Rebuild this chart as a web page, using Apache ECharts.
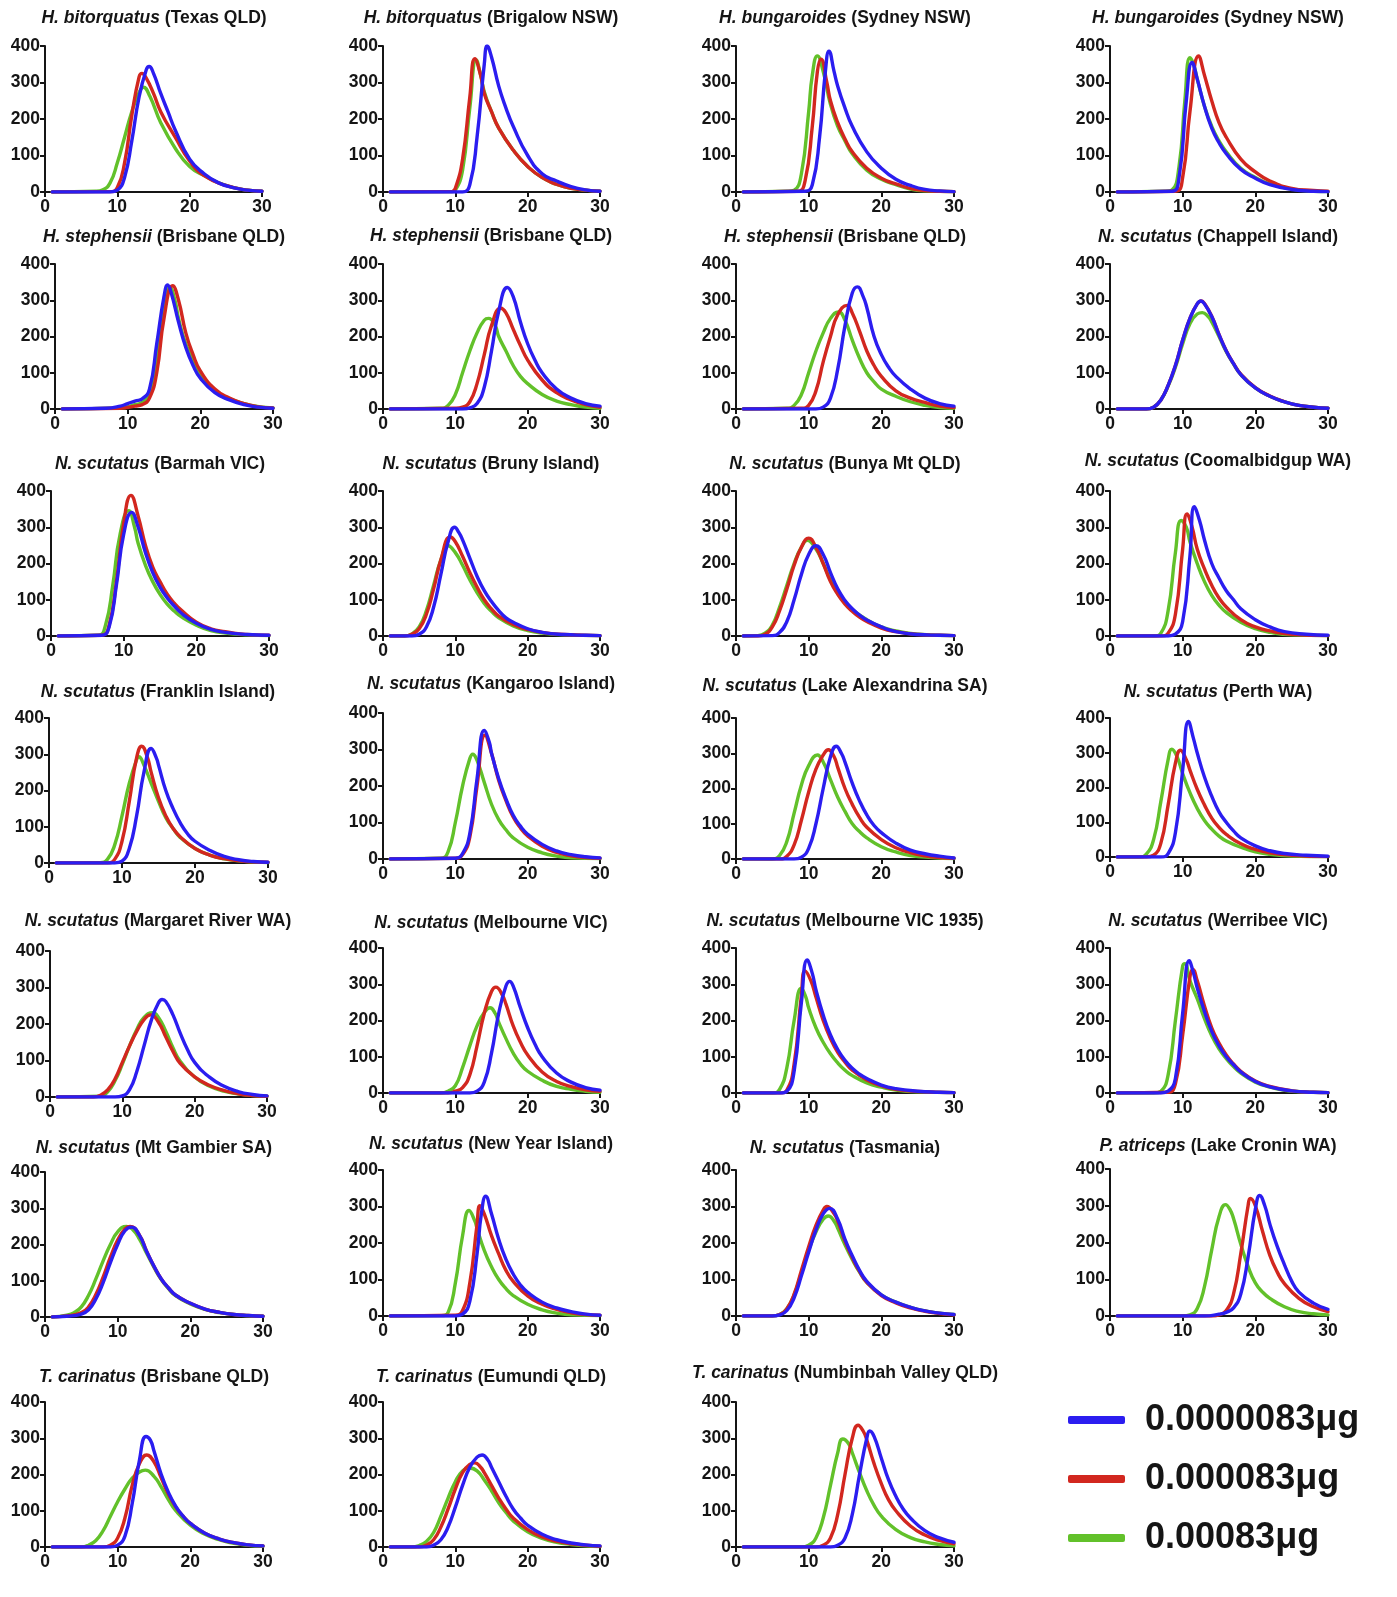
<!DOCTYPE html>
<html><head><meta charset="utf-8">
<script src="https://cdn.jsdelivr.net/npm/echarts@6/dist/echarts.min.js"></script>
<style>html,body{margin:0;padding:0;background:#fff}#c{width:1397px;height:1597px}</style>
</head><body><div id="c"></div>
<script>
// ---------- data ----------
const doseNames = ['0.0000083μg', '0.000083μg', '0.00083μg'];
const species = ['H. bitorquatus','H. bitorquatus','H. bungaroides','H. bungaroides',
 'H. stephensii','H. stephensii','H. stephensii','N. scutatus',
 'N. scutatus','N. scutatus','N. scutatus','N. scutatus',
 'N. scutatus','N. scutatus','N. scutatus','N. scutatus',
 'N. scutatus','N. scutatus','N. scutatus','N. scutatus',
 'N. scutatus','N. scutatus','N. scutatus','P. atriceps',
 'T. carinatus','T. carinatus','T. carinatus'];
const places = ['Texas QLD','Brigalow NSW','Sydney NSW','Sydney NSW',
 'Brisbane QLD','Brisbane QLD','Brisbane QLD','Chappell Island',
 'Barmah VIC','Bruny Island','Bunya Mt QLD','Coomalbidgup WA',
 'Franklin Island','Kangaroo Island','Lake Alexandrina SA','Perth WA',
 'Margaret River WA','Melbourne VIC','Melbourne VIC 1935','Werribee VIC',
 'Mt Gambier SA','New Year Island','Tasmania','Lake Cronin WA',
 'Brisbane QLD','Eumundi QLD','Numbinbah Valley QLD'];

// 0.0000083μg (blue)
const dose1 = [
[[1,0],[9,0],[10,5],[11,40],[12,140],[13,260],[14,335],[14.4,344],[15,325],[16,270],[17,220],[18,170],[20,90],[22,50],[24,25],[26,12],[28,5],[30,2]],
[[1,0],[11,0],[12,20],[13,150],[14,350],[14.4,400],[15,370],[16,290],[17,230],[18,180],[20,100],[22,50],[24,30],[26,15],[28,6],[30,2]],
[[1,0],[9.5,2],[10.5,20],[11.5,150],[12.3,330],[12.8,386],[13.5,330],[14,290],[15,230],[16,180],[18,110],[20,65],[22,35],[24,18],[26,7],[28,3],[30,1]],
[[1,0],[8.5,2],[9.5,40],[10.5,250],[11.3,355],[12,310],[13,235],[14,175],[15,135],[16,105],[18,62],[20,38],[22,20],[25,7],[28,2],[30,1]],
[[1,0],[7,2],[9,8],[10,15],[11,22],[12,28],[13,55],[14,180],[15,310],[15.5,342],[16,320],[17,240],[18,170],[19,120],[20,85],[22,45],[24,25],[26,12],[28,5],[30,2]],
[[1,0],[11,0],[12,3],[13,15],[14,60],[15,160],[16,270],[17.2,335],[18,310],[19,240],[20,180],[21,135],[22,100],[24,55],[26,30],[28,15],[30,8]],
[[1,0],[11,0],[12,5],[13,30],[14,110],[15,230],[16,320],[16.7,337],[17.5,310],[18,280],[19,200],[20,150],[21,115],[22,90],[24,55],[26,30],[28,15],[30,8]],
[[1,0],[5,0],[6,5],[7,25],[8,65],[9,120],[10,190],[11,250],[12,290],[12.5,298],[13,290],[14,255],[15,205],[16,160],[17,125],[18,95],[20,58],[22,35],[24,20],[26,10],[28,5],[30,2]],
[[1,0],[7,2],[8,25],[9,140],[10,280],[11.1,341],[12,300],[13,230],[14,175],[15,135],[16,105],[17,82],[18,62],[20,35],[22,18],[24,10],[27,4],[30,2]],
[[1,0],[4,0],[5,5],[6,25],[7,80],[8,170],[9,260],[9.9,300],[10.5,285],[11,265],[12,215],[13,165],[14,125],[15,95],[16,70],[17,50],[18,38],[20,20],[22,10],[25,4],[28,2],[30,1]],
[[1,0],[5,1],[6,10],[7,40],[8,100],[9,170],[10,225],[11,249],[12,225],[13,175],[14,130],[15,98],[16,75],[17,58],[18,44],[20,25],[22,12],[25,4],[28,2],[30,1]],
[[1,0],[8,0],[9,5],[10,40],[11,220],[11.6,357],[12.3,320],[13,265],[14,200],[15,160],[16,125],[17,100],[18,75],[20,45],[22,25],[24,12],[27,5],[30,2]],
[[1,0],[9,0],[10,5],[11,40],[12,130],[13,250],[14,316],[14.7,290],[15,270],[16,200],[17,150],[18,110],[19,80],[20,60],[22,35],[24,18],[26,9],[28,4],[30,2]],
[[1,0],[10,2],[11,15],[12,70],[13,220],[14,352],[14.7,320],[15,290],[16,220],[17,165],[18,120],[19,90],[20,68],[22,40],[24,22],[26,12],[28,6],[30,3]],
[[1,0],[8,0],[9,5],[10,30],[11,100],[12,200],[13,290],[13.8,320],[14.5,300],[15,275],[16,215],[17,165],[18,125],[19,95],[20,75],[22,45],[24,25],[26,15],[28,8],[30,3]],
[[1,0],[7,0],[8,10],[9,70],[10,250],[10.8,390],[11.5,340],[12,300],[13,230],[14,175],[15,130],[16,100],[17,75],[18,55],[20,32],[22,18],[24,10],[27,5],[30,2]],
[[1,0],[9,0],[10,3],[11,20],[12,70],[13,140],[14,210],[15,258],[15.5,267],[16,262],[17,225],[18,175],[19,130],[20,95],[22,55],[24,30],[26,15],[28,7],[30,3]],
[[1,0],[12,0],[13,5],[14,30],[15,110],[16,220],[17,295],[17.5,308],[18,295],[19,235],[20,180],[21,135],[22,100],[24,55],[26,30],[28,15],[30,8]],
[[1,0],[6,0],[7,5],[8,60],[9,250],[9.8,367],[10.5,330],[11,285],[12,215],[13,160],[14,120],[15,90],[16,68],[17,52],[18,40],[20,22],[22,12],[25,5],[28,2],[30,1]],
[[1,0],[7,0],[8,5],[9,40],[10,220],[10.9,365],[11.5,330],[12,290],[13,225],[14,170],[15,130],[16,100],[17,78],[18,58],[20,32],[22,17],[25,6],[28,2],[30,1]],
[[1,0],[3,2],[5,8],[6,20],[7,50],[8,95],[9,150],[10,200],[11,238],[11.9,248],[13,225],[14,180],[15,140],[16,105],[17,80],[18,60],[20,38],[22,22],[24,13],[26,7],[28,4],[30,2]],
[[1,0],[10,0],[11,5],[12,40],[13,170],[13.6,280],[14.2,328],[15,280],[16,210],[17,155],[18,115],[19,85],[20,65],[22,38],[24,22],[26,12],[28,5],[30,2]],
[[1,0],[5,0],[6,3],[7,15],[8,50],[9,110],[10,175],[11,235],[12,280],[12.9,295],[14,265],[15,210],[16,165],[17,125],[18,95],[20,58],[22,38],[24,24],[26,14],[28,8],[30,4]],
[[1,0],[13,0],[15,5],[16,10],[17,22],[18,60],[19,160],[20,290],[20.6,328],[21.3,300],[22,250],[23,190],[24,140],[25,95],[26,65],[28,35],[30,18]],
[[1,0],[9,0],[10,5],[11,30],[12,120],[13,240],[13.9,305],[14.5,295],[15,265],[16,200],[17,150],[18,112],[19,85],[20,65],[22,38],[24,22],[26,12],[28,6],[30,3]],
[[1,0],[6,0],[7,5],[8,20],[9,55],[10,110],[11,170],[12,220],[13,248],[13.7,254],[14.5,240],[15,220],[16,180],[17,140],[18,105],[19,80],[20,60],[22,35],[24,20],[26,11],[28,6],[30,3]],
[[1,0],[13,0],[14,5],[15,25],[16,90],[17,200],[18,300],[18.4,320],[19,305],[20,245],[21,185],[22,140],[23,105],[24,80],[26,45],[28,25],[30,13]]
];

// 0.000083μg (red)
const dose2 = [
[[1,0],[9,1],[10,12],[11,80],[12,210],[13,315],[13.4,325],[14,312],[15,270],[16,220],[18,150],[20,85],[22,45],[25,18],[28,5],[30,2]],
[[1,0],[9.5,1],[10,10],[11,90],[12,260],[12.7,365],[13.5,320],[14,270],[15,220],[16,175],[18,115],[20,70],[22,40],[25,15],[28,5],[30,2]],
[[1,0],[8.5,2],[9.5,30],[10.5,180],[11.2,330],[11.7,364],[12.5,300],[13,250],[14,190],[15,145],[16,110],[18,65],[20,38],[22,22],[25,6],[28,2],[30,1]],
[[1,0],[9,2],[10,40],[11,220],[12.2,373],[13,320],[14,250],[15,190],[16,150],[18,90],[20,55],[22,30],[25,10],[28,4],[30,2]],
[[1,0],[9,2],[11,8],[12,12],[13,30],[14,100],[15,250],[16.2,340],[17,300],[18,210],[19,150],[20,105],[22,55],[24,30],[26,15],[28,6],[30,3]],
[[1,0],[10,2],[11,5],[12,20],[13,70],[14,150],[15,230],[16.3,278],[17,265],[18,220],[19,175],[20,135],[22,80],[24,45],[26,25],[28,12],[30,5]],
[[1,0],[9,2],[10,10],[11,50],[12,130],[13,200],[14,260],[15.3,286],[16,265],[17,215],[18,160],[19,120],[20,90],[22,50],[24,30],[26,18],[28,8],[30,4]],
[[1,0],[5,0],[6,5],[7,25],[8,65],[9,120],[10,190],[11,250],[12,290],[12.6,298],[13,291],[14,256],[15,206],[16,161],[17,126],[18,96],[20,59],[22,36],[24,20],[26,10],[28,5],[30,2]],
[[1,0],[7,2],[8,30],[9,150],[10,310],[11,388],[12,330],[13,250],[14,190],[15,150],[16,115],[17,90],[18,70],[20,38],[22,20],[24,12],[26,6],[28,3],[30,2]],
[[1,0],[3,0],[4,5],[5,20],[6,60],[7,130],[8,210],[9.3,273],[10,260],[11,220],[12,175],[13,135],[14,100],[15,75],[16,55],[18,32],[20,18],[22,10],[25,4],[30,1]],
[[1,0],[3,0],[4,5],[5,25],[6,70],[7,130],[8,195],[9,245],[10,270],[11,245],[12,200],[13,150],[14,115],[15,88],[16,68],[17,52],[18,40],[20,22],[22,12],[25,4],[28,2],[30,1]],
[[1,0],[7,0],[8,8],[9,60],[10,240],[10.6,337],[11.3,300],[12,240],[13,185],[14,140],[15,105],[16,80],[18,45],[20,25],[22,14],[25,5],[30,1]],
[[1,0],[8,0],[9,10],[10,60],[11,170],[12,290],[12.7,322],[13.5,290],[14,250],[15,180],[16,130],[17,95],[18,72],[20,40],[22,22],[24,12],[27,4],[30,2]],
[[1,0],[10,2],[11,12],[12,60],[13,200],[14.1,339],[15,290],[16,215],[17,160],[18,115],[19,85],[20,63],[22,35],[24,18],[26,9],[28,4],[30,2]],
[[1,0],[6,0],[7,8],[8,40],[9,110],[10,190],[11,255],[12,295],[12.7,310],[13.5,290],[14,260],[15,200],[16,155],[17,118],[18,90],[20,55],[22,32],[24,18],[26,9],[28,4],[30,2]],
[[1,0],[5,0],[6,5],[7,40],[8,150],[9,270],[9.7,307],[10.5,280],[11,250],[12,195],[13,150],[14,112],[15,85],[16,65],[18,38],[20,22],[22,12],[25,5],[30,1]],
[[1,0],[6,0],[7,5],[8,20],[9,50],[10,95],[11,140],[12,180],[13,212],[13.9,225],[15,205],[16,165],[17,125],[18,92],[20,55],[22,32],[24,18],[26,9],[28,4],[30,2]],
[[1,0],[9,0],[10,5],[11,15],[12,50],[13,130],[14,220],[15,280],[15.6,292],[16.5,270],[17,245],[18,185],[19,140],[20,105],[22,58],[24,32],[26,18],[28,9],[30,5]],
[[1,0],[6,0],[7,8],[8,80],[9,270],[9.5,337],[10.3,310],[11,265],[12,200],[13,150],[14,112],[15,85],[16,63],[18,36],[20,20],[22,10],[25,4],[30,1]],
[[1,0],[8,2],[9,25],[10,160],[11,320],[11.4,341],[12,310],[13,240],[14,180],[15,138],[16,105],[17,80],[18,60],[20,33],[22,18],[25,6],[28,2],[30,1]],
[[1,0],[3,3],[5,12],[6,28],[7,62],[8,110],[9,165],[10,212],[11,243],[11.7,250],[13,226],[14,181],[15,140],[16,105],[17,80],[18,60],[20,38],[22,22],[24,13],[26,7],[28,4],[30,2]],
[[1,0],[10,2],[11,15],[12,90],[13,250],[13.4,302],[14,280],[15,220],[16,170],[17,125],[18,95],[20,55],[22,32],[24,18],[26,9],[28,4],[30,2]],
[[1,0],[5,0],[6,4],[7,20],[8,60],[9,125],[10,190],[11,248],[12,290],[12.5,300],[13.5,280],[14,260],[15,205],[16,160],[17,122],[18,92],[20,56],[22,36],[24,22],[26,13],[28,7],[30,3]],
[[1,0],[14,0],[15,3],[16,15],[17,60],[18,170],[19,300],[19.3,320],[20,300],[21,230],[22,165],[23,120],[24,88],[26,48],[28,25],[30,12]],
[[1,0],[8,0],[9,5],[10,25],[11,80],[12,170],[13,230],[14,254],[15,235],[16,190],[17,145],[18,110],[19,85],[20,65],[22,38],[24,22],[26,12],[28,6],[30,3]],
[[1,0],[5,0],[6,5],[7,20],[8,55],[9,105],[10,160],[11,205],[12,228],[12.7,232],[13.5,220],[14,205],[15,170],[16,135],[17,105],[18,80],[20,48],[22,28],[24,16],[26,9],[28,5],[30,2]],
[[1,0],[11,0],[12,5],[13,25],[14,90],[15,200],[16,300],[16.8,336],[17.5,320],[18,295],[19,230],[20,175],[21,130],[22,100],[24,58],[26,33],[28,18],[30,9]]
];

// 0.00083μg (green)
const dose3 = [
[[1,0],[7,2],[8,6],[9,25],[10,80],[11,150],[12,220],[13,272],[13.6,287],[14.5,262],[16,190],[18,120],[20,70],[22,45],[25,18],[28,5],[30,2]],
[[1,0],[9.5,1],[10,5],[11,60],[12,230],[12.9,362],[13.5,320],[14,275],[15,220],[16,175],[18,115],[20,70],[22,40],[25,15],[28,5],[30,2]],
[[1,0],[7,2],[8,5],[9,50],[10,220],[10.5,320],[11.2,373],[12,330],[13,240],[14,180],[15,140],[16,105],[18,60],[20,35],[22,20],[24,8],[26,3],[30,1]],
[[1,0],[7.5,2],[8.5,5],[9.5,70],[10.3,250],[11,368],[11.5,350],[12,310],[13,235],[14,180],[15,140],[16,110],[18,65],[20,40],[22,22],[25,8],[28,2],[30,1]],
[[1,0],[9,3],[11,12],[12,18],[13,40],[14,140],[15,290],[15.8,335],[16.5,300],[17,250],[18,180],[20,95],[22,50],[24,28],[27,10],[30,3]],
[[1,0],[8,2],[9,10],[10,40],[11,100],[12,160],[13,210],[14,245],[14.6,250],[15.5,230],[16,200],[17,160],[18,120],[19,90],[20,70],[22,40],[24,22],[26,12],[28,5],[30,2]],
[[1,0],[7,2],[8,10],[9,40],[10,100],[11,160],[12,210],[13,250],[14.1,268],[15,245],[16,190],[17,140],[18,100],[19,75],[20,55],[22,35],[24,20],[26,10],[28,4],[30,2]],
[[1,0],[5,0],[6,5],[7,25],[8,63],[9,115],[10,180],[11,235],[12,262],[12.7,266],[13.5,255],[14,240],[15,200],[16,158],[17,124],[18,95],[20,58],[22,35],[24,20],[26,10],[28,5],[30,2]],
[[1,0],[6.5,2],[7.5,30],[8.5,140],[9.5,280],[10.7,346],[11.5,300],[12,255],[13,195],[14,150],[15,115],[16,88],[17,68],[18,52],[20,30],[22,15],[24,8],[27,3],[30,1]],
[[1,0],[3,0],[4,6],[5,25],[6,70],[7,140],[8,210],[9,249],[10,230],[11,195],[12,155],[13,120],[14,90],[15,68],[16,50],[18,28],[20,15],[22,8],[25,3],[30,1]],
[[1,0],[3,1],[4,8],[5,30],[6,80],[7,140],[8,200],[9,245],[9.8,264],[11,240],[12,200],[13,155],[14,118],[15,92],[16,72],[18,45],[20,25],[22,14],[25,5],[30,1]],
[[1,0],[6,0],[7,8],[8,70],[9,230],[9.8,319],[10.5,300],[11,260],[12,200],[13,150],[14,112],[15,85],[16,65],[18,38],[20,20],[22,10],[25,3],[30,1]],
[[1,0],[7,1],[8,10],[9,50],[10,130],[11,220],[12,285],[12.3,293],[13,270],[14,220],[15,170],[16,125],[17,95],[18,70],[20,40],[22,22],[25,8],[30,1]],
[[1,0],[8,2],[9,20],[10,100],[11,200],[12,275],[12.4,287],[13,270],[14,210],[15,150],[16,108],[17,80],[18,58],[20,32],[22,17],[24,8],[26,3],[30,1]],
[[1,0],[5,0],[6,10],[7,50],[8,130],[9,210],[10,265],[11.2,295],[12,275],[13,225],[14,175],[15,135],[16,100],[17,78],[18,60],[20,35],[22,20],[24,10],[27,4],[30,1]],
[[1,0],[4,0],[5,8],[6,50],[7,160],[8,280],[8.5,310],[9.2,290],[10,240],[11,185],[12,140],[13,105],[14,80],[15,60],[16,46],[18,28],[20,15],[22,8],[25,3],[30,1]],
[[1,0],[7,2],[8,15],[9,45],[10,90],[11,140],[12,185],[13,218],[14.2,231],[15,218],[16,180],[17,135],[18,98],[20,55],[22,30],[24,16],[27,6],[30,2]],
[[1,0],[8,0],[9,5],[10,20],[11,70],[12,130],[13,185],[14,222],[14.8,235],[15.5,220],[16,195],[17,150],[18,110],[19,80],[20,60],[22,35],[24,18],[26,10],[28,5],[30,2]],
[[1,0],[5,0],[6,10],[7,70],[8,200],[9,289],[9.6,265],[10,235],[11,180],[12,140],[13,108],[14,83],[15,63],[16,48],[18,28],[20,16],[22,8],[25,3],[30,1]],
[[1,0],[6,0],[7,5],[8,50],[9,200],[10,350],[10.3,357],[11,310],[12,260],[13,205],[14,158],[15,122],[16,95],[17,73],[18,55],[20,30],[22,16],[25,5],[30,1]],
[[1,0],[3,5],[4,12],[5,28],[6,60],[7,105],[8,155],[9,200],[10,235],[11.2,250],[12,243],[13,215],[14,175],[15,137],[16,103],[17,78],[18,58],[20,36],[22,21],[24,12],[27,5],[30,2]],
[[1,0],[8,1],[9,10],[10,90],[11,220],[11.9,289],[12.7,260],[13,240],[14,180],[15,135],[16,100],[17,75],[18,56],[20,32],[22,17],[24,8],[26,3],[30,1]],
[[1,0],[5,0],[6,4],[7,20],[8,58],[9,118],[10,180],[11,230],[12,265],[12.7,274],[13.5,260],[14,240],[15,195],[16,155],[17,120],[18,92],[20,58],[22,38],[24,24],[26,14],[28,8],[30,4]],
[[1,0],[10,0],[11,3],[12,20],[13,80],[14,180],[15,270],[15.9,303],[16.5,290],[17,265],[18,195],[19,135],[20,90],[21,65],[22,48],[24,25],[26,12],[28,6],[30,3]],
[[1,0],[5,0],[6,5],[7,18],[8,45],[9,85],[10,125],[11,160],[12,190],[13,207],[13.8,212],[15,195],[16,165],[17,130],[18,100],[20,60],[22,35],[24,20],[26,10],[28,5],[30,2]],
[[1,0],[4,0],[5,4],[6,15],[7,40],[8,85],[9,135],[10,180],[11,210],[12,218],[13,210],[14,185],[15,155],[16,122],[17,95],[18,72],[20,42],[22,24],[24,13],[26,7],[28,3],[30,1]],
[[1,0],[9,0],[10,5],[11,25],[12,80],[13,170],[14,260],[14.7,298],[15.5,285],[16,260],[17,205],[18,155],[19,115],[20,85],[22,48],[24,26],[26,14],[28,7],[30,3]]
];

// ---------- layout (pixels): [x at 0, x at 30, y at 400, y at 0] ----------
const boxes = [
[45,262,46,192],[383,600,46,192],[736,954,46,192],[1110,1328,46,192],
[55,273,264,409],[383,600,264,409],[736,954,264,409],[1110,1328,264,409],
[51,269,491,636],[383,600,491,636],[736,954,491,636],[1110,1328,491,636],
[49,268,718,863],[383,600,713,859],[736,954,718,859],[1110,1328,718,857],
[50,267,951,1097],[383,600,948,1093],[736,954,948,1093],[1110,1328,948,1093],
[45,263,1172,1317],[383,600,1170,1316],[736,954,1170,1316],[1110,1328,1169,1316],
[45,263,1402,1547],[383,600,1402,1547],[736,954,1402,1547]
];
const titlePos = [
[154,18],[491,18],[845,18],[1218,18],
[164,237],[491,236],[845,237],[1218,237],
[160,464],[491,464],[845,464],[1218,461],
[158,692],[491,684],[845,686],[1218,692],
[158,921],[491,923],[845,921],[1218,921],
[154,1148],[491,1144],[845,1148],[1218,1146],
[154,1377],[491,1377],[845,1373]
];
const colors = ['#2b1df0', '#d2271f', '#62c12a'];
const FONT = "'Liberation Sans', Arial, sans-serif";
const INK = '#151515';

const grids = [], xAxes = [], yAxes = [], series = [], graphics = [];
const allDoses = [dose1, dose2, dose3];
boxes.forEach((b, i) => {
  grids.push({left: b[0], top: b[2], width: b[1] - b[0], height: b[3] - b[2], containLabel: false});
  const common = {
    gridIndex: i, type: 'value',
    axisLine: {show: true, onZero: false, lineStyle: {color: INK, width: 2}},
    axisTick: {show: true, length: 5, lineStyle: {color: INK, width: 2}},
    splitLine: {show: false},
    axisLabel: {color: INK, fontSize: 17.5, fontWeight: 'bold', fontFamily: FONT}
  };
  xAxes.push(Object.assign({}, common, {min: 0, max: 30, interval: 10,
    axisLabel: Object.assign({}, common.axisLabel, {margin: 6})}));
  yAxes.push(Object.assign({}, common, {min: 0, max: 400, interval: 100,
    axisLabel: Object.assign({}, common.axisLabel, {margin: 5})}));
  // draw green first, then red, then blue on top
  [2, 1, 0].forEach(k => {
    series.push({
      name: doseNames[k], type: 'line', xAxisIndex: i, yAxisIndex: i,
      data: allDoses[k][i], showSymbol: false, smooth: 0.5,
      lineStyle: {color: colors[k], width: 3.4, cap: 'round', join: 'round'},
      itemStyle: {color: colors[k]},
      z: 3 + (2 - k)
    });
  });
  graphics.push({
    type: 'text', x: titlePos[i][0], y: titlePos[i][1],
    style: {
      text: '{i|' + species[i] + '} {n|(' + places[i] + ')}',
      align: 'center', verticalAlign: 'middle',
      fontSize: 17.5, fontWeight: 'bold', fontFamily: FONT, fill: INK,
      rich: {
        i: {fontStyle: 'italic', fontWeight: 'bold', fontSize: 17.5, fontFamily: FONT, fill: INK},
        n: {fontWeight: 'bold', fontSize: 17.5, fontFamily: FONT, fill: INK}
      }
    }
  });
});

const chart = echarts.init(document.getElementById('c'), null, {renderer: 'canvas'});
chart.setOption({
  animation: false,
  backgroundColor: '#fff',
  grid: grids, xAxis: xAxes, yAxis: yAxes, series: series,
  legend: {
    data: doseNames, orient: 'vertical', left: 1063, top: 1395,
    icon: 'roundRect', itemWidth: 57, itemHeight: 8, itemGap: 19,
    selectedMode: false,
    textStyle: {fontSize: 36, fontWeight: 'bold', fontFamily: FONT, color: INK,
      lineHeight: 40, padding: [0, 0, 0, 15]}
  },
  graphic: graphics
});
</script></body></html>
